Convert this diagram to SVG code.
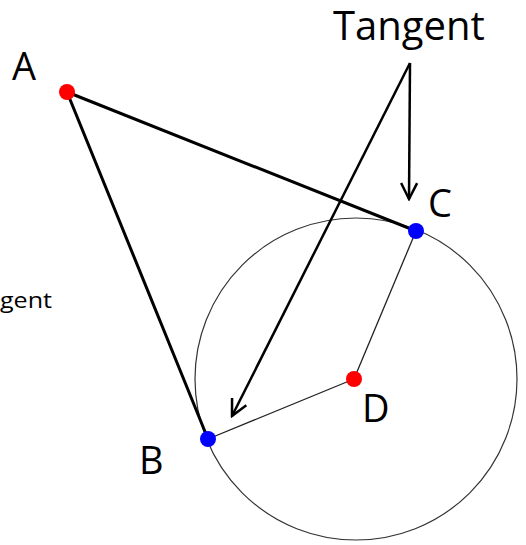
<svg xmlns="http://www.w3.org/2000/svg" width="526" height="545" viewBox="0 0 526 545">
<defs>
<marker id="arr" viewBox="0 0 20 20" refX="18" refY="10" markerWidth="20" markerHeight="20" markerUnits="userSpaceOnUse" orient="auto">
<path d="M2,2 L18,10 L2,18" fill="none" stroke="#000" stroke-width="2.5"/>
</marker>
<style>
.lbl{font-family:"Open Sans","Liberation Sans",sans-serif;fill:#000}
.thick{stroke:#000;stroke-width:3;fill:none}
.thin{stroke:#222;stroke-width:1.3;fill:none}
.arrow{stroke:#000;stroke-width:2.5;fill:none}
</style>
</defs>
<rect width="526" height="545" fill="#fff"/>
<g id="circle"><circle cx="356" cy="379" r="161" fill="none" stroke="#333" stroke-width="1.2"/></g>
<g id="connectors">
<line class="thick" x1="67" y1="92" x2="208" y2="439"/>
<line class="thick" x1="67" y1="92" x2="416" y2="231"/>
<line class="thin" x1="208" y1="439" x2="354" y2="379"/>
<line class="thin" x1="354" y1="379" x2="416" y2="231"/>
<line class="arrow" x1="410" y1="63" x2="409" y2="199" marker-end="url(#arr)"/>
<line class="arrow" x1="410" y1="63" x2="232" y2="416" marker-end="url(#arr)"/>
</g>
<g id="A"><circle cx="67" cy="92" r="8" fill="#f00"/><text class="lbl" x="12" y="80" font-size="38">A</text></g>
<g id="B"><circle cx="208" cy="439" r="8" fill="#00f"/><text class="lbl" x="139" y="474" font-size="38">B</text></g>
<g id="C"><circle cx="416" cy="231" r="8" fill="#00f"/><text class="lbl" x="428" y="217" font-size="38">C</text></g>
<g id="D"><circle cx="354" cy="379" r="8" fill="#f00"/><text class="lbl" x="362" y="422" font-size="38">D</text></g>
<g id="tangent"><text class="lbl" x="333" y="40" font-size="40">Tangent</text></g>
<g id="gent"><text class="lbl" x="0" y="308" font-size="22" textLength="52" lengthAdjust="spacingAndGlyphs">gent</text></g>
</svg>
